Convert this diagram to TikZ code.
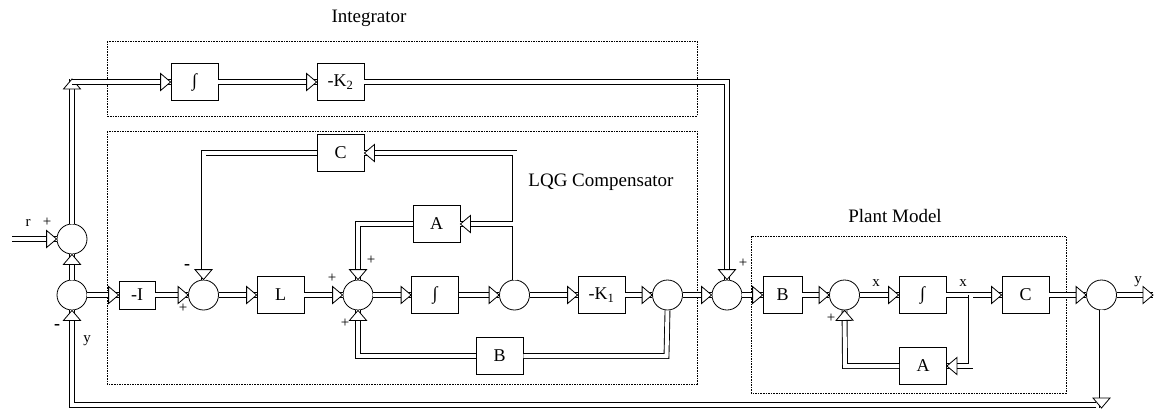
\documentclass[tikz,border=0pt]{standalone}
\usepackage{fontspec}
\setmainfont{Liberation Serif}
\usetikzlibrary{decorations.markings}
\tikzset{
  blk/.style={draw, line width=0.8pt, minimum width=47pt, minimum height=37pt, inner sep=0pt, font=\fontsize{18}{20}\selectfont},
  sumc/.style={draw, circle, line width=0.8pt, minimum size=30pt, inner sep=0pt},
  sig/.style={draw=black, line width=5.8pt, line join=miter, postaction={draw=white, line width=4pt}},
  sigar/.style={sig, postaction={decorate, decoration={markings,
     mark=at position 1 with {\draw[draw=black, line width=0.8pt, fill=white, line join=miter]
        (0pt,0pt) -- (-10pt,8.5pt) -- (-10pt,-8.5pt) -- cycle;}}}},
  grp/.style={draw, line width=0.6pt, dash pattern=on 1.6pt off 1pt},
  ttl/.style={font=\fontsize{19}{22}\selectfont},
  sml/.style={font=\fontsize{15}{16}\selectfont, inner sep=0pt}
}
\begin{document}
\begin{tikzpicture}[x=1pt,y=-1pt]
\clip (0,0) rectangle (1159,408);
\fill[white] (0,0) rectangle (1159,408);
% group boxes
\draw[grp] (107,41) rectangle (697,116);
\draw[grp] (107,131) rectangle (697,384);
\draw[grp] (751,236) rectangle (1066,393);
\node[ttl] (tint) at (369,18) {Integrator};
\node[ttl] (tlqg) at (601,182) {LQG Compensator};
\node[ttl] (tplant) at (895,216) {Plant Model};
% nodes
\node[sumc] (c1) at (72,239) {};
\node[sumc] (c2) at (72,295) {};
\node[blk] (int1) at (194.5,82) {∫};
\node[blk] (K2) at (340.5,82) {-K\textsubscript{2}};
\node[blk, minimum width=36pt, minimum height=28pt] (mI) at (137,295) {-I};
\node[sumc] (c3) at (203.5,295) {};
\node[blk] (L) at (280.5,295) {L};
\node[sumc] (c4) at (358,295) {};
\node[blk] (int2) at (435,295) {∫};
\node[sumc] (c5) at (514.5,295) {};
\node[blk] (K1) at (601.5,295) {-K\textsubscript{1}};
\node[sumc] (c6) at (667.5,295) {};
\node[sumc] (s4) at (727,295) {};
\node[blk] (C) at (340.5,153) {C};
\node[blk] (A) at (436.5,224) {A};
\node[blk] (Bc) at (499.5,356) {B};
\node[blk, minimum width=39pt] (Bp) at (782.5,295) {B};
\node[sumc] (p1) at (844.5,295) {};
\node[blk] (intp) at (922.5,295) {∫};
\node[blk] (Cp) at (1025.5,295) {C};
\node[sumc] (out) at (1101.5,295) {};
\node[blk] (Ap) at (923,366) {A};
% coordinates
\coordinate (rin) at (12,239);
\coordinate (jtop) at (72,79);
\coordinate (jtopr) at (72,82);
\coordinate (k2r) at (727,82);
\coordinate (yout) at (1153,295);
\coordinate (ydown) at (1101.5,408);
\coordinate (fbr) at (1096,405);
\coordinate (fbl) at (72,405);
\coordinate (c5top) at (514.5,153);
\coordinate (c5a) at (513,224);
\coordinate (cl) at (203.5,153);
\coordinate (al) at (358,224);
\coordinate (c6b) at (666.5,356);
\coordinate (bl) at (358,356);
\coordinate (ipr) at (970.5,295);
\coordinate (ipd) at (970.5,366);
\coordinate (apl) at (845,366);
% connectors
\draw[sigar] (rin) -- (c1.west);
\draw[sigar] (c2.north) -- (c1.south);
\draw[sigar] (c1.north) -- (jtop);
\draw[sigar] (jtopr) -- (int1.west);
\draw[sigar] (int1.east) -- (K2.west);
\draw[sigar] (K2.east) -- (k2r) -- (s4.north);
\draw[sigar] (c2.east) -- (mI.west);
\draw[sigar] (mI.east) -- (c3.west);
\draw[sigar] (c3.east) -- (L.west);
\draw[sigar] (L.east) -- (c4.west);
\draw[sigar] (c4.east) -- (int2.west);
\draw[sigar] (int2.east) -- (c5.west);
\draw[sigar] (c5.east) -- (K1.west);
\draw[sigar] (K1.east) -- (c6.west);
\draw[sigar] (c6.east) -- (s4.west);
\draw[sigar] (s4.east) -- (Bp.west);
\draw[sigar] (Bp.east) -- (p1.west);
\draw[sigar] (p1.east) -- (intp.west);
\draw[sigar] (intp.east) -- (Cp.west);
\draw[sigar] (Cp.east) -- (out.west);
\draw[sigar] (out.east) -- (yout);
\draw[sigar] (fbr) -- (fbl) -- (c2.south);
\draw[sigar] (out.south) -- (ydown);
\draw[sigar] (c5.north) -- (c5top) -- (C.east);
\draw[sigar] (c5a) -- (A.east);
\draw[sigar] (C.west) -- (cl) -- (c3.north);
\draw[sigar] (A.west) -- (al) -- (c4.north);
\draw[sig] (c6.south) -- (c6b) -- (Bc.east);
\draw[sigar] (Bc.west) -- (bl) -- (c4.south);
\draw[sigar] (ipr) -- (ipd) -- (Ap.east);
\draw[sigar] (Ap.west) -- (apl) -- (p1.south);
% signs and labels
\node[sml] (lr) at (28,223) {r};
\node[sml] (lrp) at (47,222) {+};
\node[font=\fontsize{18}{20}\selectfont\bfseries, inner sep=0pt] (lm2) at (57,327) {-};
\node[sml] (ly) at (87,341) {y};
\node[font=\fontsize{18}{20}\selectfont\bfseries, inner sep=0pt] (lm3) at (187,267) {-};
\node[sml] (lp3) at (183,308) {+};
\node[sml] (lp4a) at (332,278) {+};
\node[sml] (lp4b) at (371,260) {+};
\node[sml] (lp4c) at (345,323) {+};
\node[sml] (lps4) at (743,263) {+};
\node[sml] (lpp1) at (831,318) {+};
\node[sml] (lx1) at (876,283) {x};
\node[sml] (lx2) at (963,283) {x};
\node[sml] (lyo) at (1138,282) {y};
\end{tikzpicture}
\end{document}
